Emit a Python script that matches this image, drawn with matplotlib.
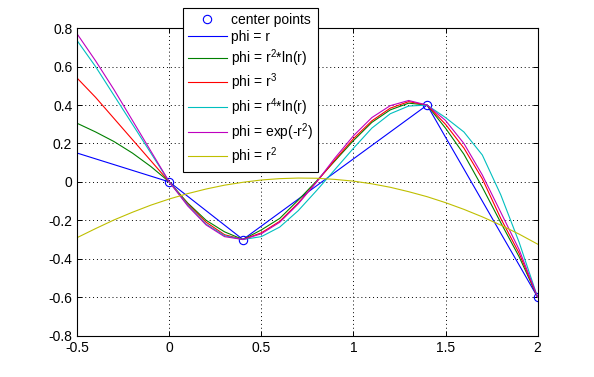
import matplotlib
matplotlib.use("Agg")
import matplotlib.pyplot as plt

plt.rcParams['font.family'] = ['Liberation Sans', 'DejaVu Sans']
plt.rcParams['font.size'] = 10
plt.rcParams['mathtext.default'] = 'regular'
plt.rcParams['axes.unicode_minus'] = False

# center points of the interpolation
cx = [0, 0.4, 1.4, 2.0]
cy = [0, -0.3, 0.4, -0.6]

# sample positions along x (every 0.1)
xs = [-0.5, -0.4, -0.3, -0.2, -0.1, 0.0, 0.1, 0.2, 0.3, 0.4, 0.5, 0.6, 0.7,
      0.8, 0.9, 1.0, 1.1, 1.2, 1.3, 1.4, 1.5, 1.6, 1.7, 1.8, 1.9, 2.0]

phi_r = [0.15, 0.12, 0.09, 0.06, 0.03, 0, -0.075, -0.15, -0.225, -0.3, -0.23,
         -0.16, -0.09, -0.02, 0.05, 0.12, 0.19, 0.26, 0.33, 0.40, 0.233,
         0.067, -0.10, -0.267, -0.433, -0.60]
phi_tps = [0.305, 0.26, 0.21, 0.15, 0.08, 0, -0.11, -0.20, -0.26, -0.30, -0.25,
           -0.19, -0.095, 0.005, 0.11, 0.215, 0.31, 0.375, 0.41, 0.40, 0.28,
           0.144, -0.028, -0.212, -0.39, -0.60]
phi_r3 = [0.54, 0.44, 0.33, 0.22, 0.11, 0, -0.115, -0.21, -0.275, -0.30, -0.265,
          -0.205, -0.11, 0.0, 0.115, 0.225, 0.318, 0.384, 0.418, 0.40, 0.30,
          0.176, 0.016, -0.19, -0.372, -0.60]
phi_r4ln = [0.735, 0.60, 0.45, 0.30, 0.15, 0, -0.12, -0.22, -0.28, -0.30, -0.285,
            -0.235, -0.15, -0.045, 0.065, 0.175, 0.28, 0.355, 0.395, 0.40, 0.335,
            0.26, 0.14, -0.067, -0.315, -0.60]
phi_gauss = [0.77, 0.63, 0.48, 0.32, 0.16, 0, -0.125, -0.224, -0.285, -0.30, -0.27,
             -0.21, -0.115, 0.0, 0.125, 0.24, 0.335, 0.397, 0.424, 0.40, 0.32,
             0.20, 0.036, -0.158, -0.353, -0.60]
phi_r2 = [-0.29, -0.243, -0.198, -0.158, -0.121, -0.089, -0.061, -0.037, -0.017,
          -0.002, 0.010, 0.017, 0.020, 0.019, 0.013, 0.004, -0.010, -0.028, -0.051,
          -0.077, -0.108, -0.143, -0.182, -0.225, -0.272, -0.324]

labels = ['phi = r', 'phi = r$^{2}$*ln(r)', 'phi = r$^{3}$', 'phi = r$^{4}$*ln(r)',
          'phi = exp(-r$^{2}$)', 'phi = r$^{2}$']
colors = ['#0000ff', '#008000', '#ff0000', '#00bfbf', '#bf00bf', '#bfbf00']

fig = plt.figure(figsize=(5.94, 3.77), dpi=100)
ax = fig.add_axes([0.13, 0.11, 0.775, 0.815])

ax.plot(cx, cy, 'o', color='#0000ff', mfc='none', ms=6, mew=0.8, label='center points')
for ys, c, lab in zip([phi_r, phi_tps, phi_r3, phi_r4ln, phi_gauss, phi_r2], colors, labels):
    ax.plot(xs, ys, color=c, lw=0.8, label=lab)

ax.set_xlim(-0.5, 2)
ax.set_ylim(-0.8, 0.8)
ax.set_xticks([-0.5, 0, 0.5, 1, 1.5, 2])
ax.set_xticklabels(['-0.5', '0', '0.5', '1', '1.5', '2'])
ax.set_yticks([-0.8, -0.6, -0.4, -0.2, 0, 0.2, 0.4, 0.6, 0.8])
ax.set_yticklabels(['-0.8', '-0.6', '-0.4', '-0.2', '0', '0.2', '0.4', '0.6', '0.8'])
ax.tick_params(direction='in', top=True, right=True, length=3.5, width=0.7)
ax.tick_params(axis='x', pad=4)
ax.grid(True, color='black', linestyle=(0, (1, 3)), linewidth=0.7)
for s in ax.spines.values():
    s.set_linewidth(0.8)

h, l = ax.get_legend_handles_labels()
leg = fig.legend(h, l, loc='upper left', bbox_to_anchor=(183 / 594, 1 - 8 / 377),
                 bbox_transform=fig.transFigure, borderaxespad=0, fancybox=False,
                 framealpha=1, edgecolor='black', handlelength=2.8, handletextpad=0.3,
                 labelspacing=0.22, borderpad=0.35, fontsize=10)
leg.get_frame().set_linewidth(0.8)

fig.savefig('out.png', dpi=100)
